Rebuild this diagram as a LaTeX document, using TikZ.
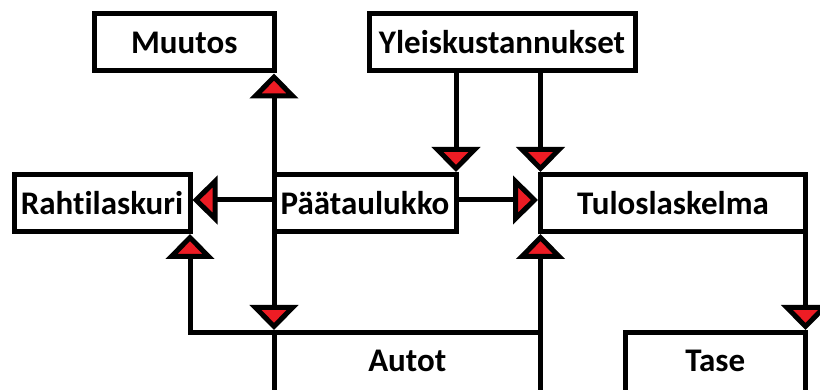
\documentclass[tikz,border=0pt]{standalone}
\usepackage{fontspec}
\setmainfont{Carlito}[Ligatures=NoCommon]
\usetikzlibrary{arrows.meta}
\definecolor{paintred}{RGB}{237,28,36}

\begin{document}
\begin{tikzpicture}[x=1pt, y=-1pt, line width=5pt,
    boxnode/.style={rectangle, draw, line width=5pt, inner sep=0pt, outer sep=0pt, minimum height=57pt,
        font=\fontsize{33}{38}\selectfont\bfseries},
    arr/.style={shorten >=2.5pt, -{Triangle[width=48pt, length=25pt, fill=paintred]}}]
    \useasboundingbox (0,0) rectangle (820,390);
    \clip (0,0) rectangle (820,390);
            % boxes
            \node[boxnode, minimum width=179.5pt] (muutos) at (184.25,42.5) {Muutos};
            \node[boxnode, minimum width=266pt]   (yleis)  at (502,42.5)    {Yleiskustannukset};
            \node[boxnode, minimum width=176pt]   (rahti)  at (102,203)     {Rahtilaskuri};
            \node[boxnode, minimum width=182pt]   (paa)    at (365,203)     {Päätaulukko};
            \node[boxnode, minimum width=265pt]   (tulos)  at (673,203)     {Tuloslaskelma};
            \node[boxnode, minimum width=266.5pt, minimum height=70pt, text depth=14pt] (autot) at (407.25,367.5) {Autot};
            \node[boxnode, minimum width=180.5pt, minimum height=70pt, text depth=14pt] (tase)  at (715.25,367.5) {Tase};
            % connectors
            \draw[arr] (paa.north west) -- (muutos.south east);
            \draw[arr] (paa.south west) -- (autot.north west);
            \draw[arr] ([yshift=3pt]paa.west) -- ([yshift=3pt]rahti.east);
            \draw[arr] ([yshift=3pt]paa.east) -- ([yshift=3pt]tulos.west);
            \draw[arr] (yleis.south -| paa.north east) -- (paa.north east);
            \draw[arr] (yleis.south -| tulos.north west) -- (tulos.north west);
            \draw[arr] (autot.north east) -- (tulos.south west);
            \draw[arr] (autot.north west) -| (rahti.south east);
            \draw[arr] (tulos.south east) -- (tase.north east);
        \end{tikzpicture}
\end{document}
